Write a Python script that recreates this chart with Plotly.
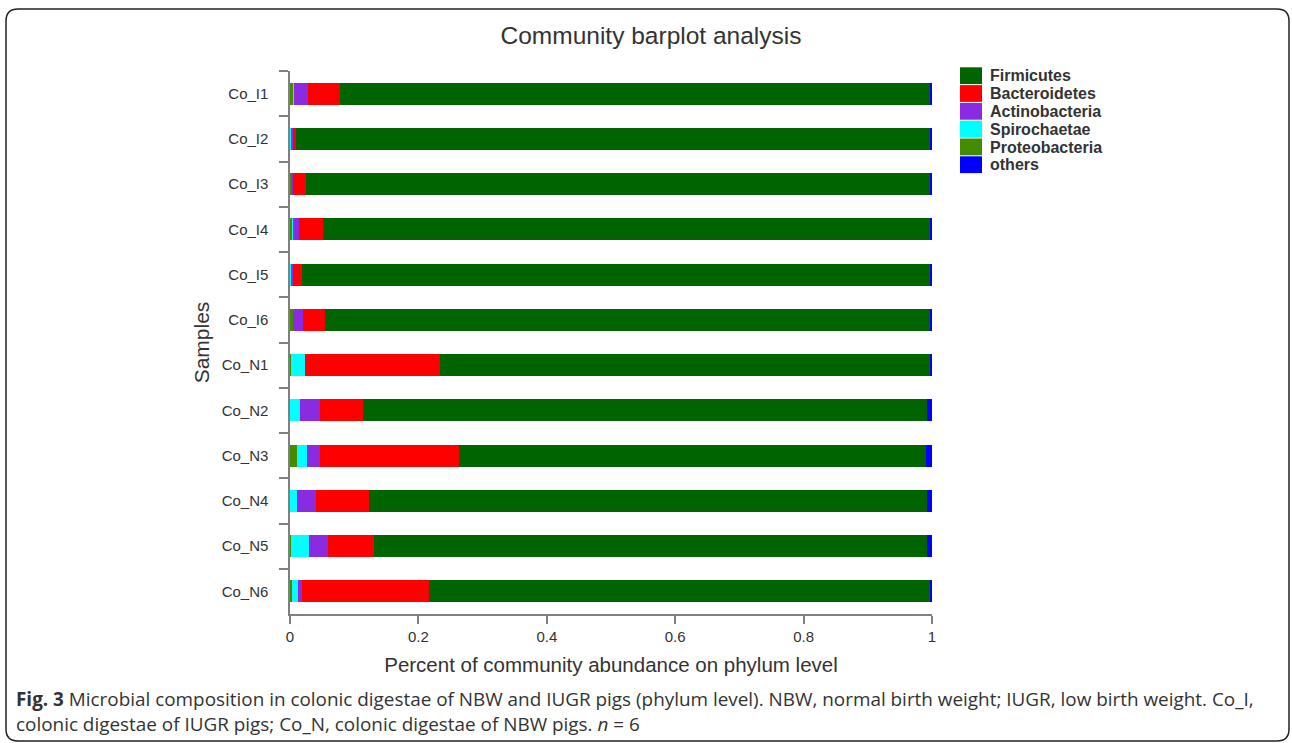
import plotly.graph_objects as go

samples = ["Co_I1", "Co_I2", "Co_I3", "Co_I4", "Co_I5", "Co_I6",
           "Co_N1", "Co_N2", "Co_N3", "Co_N4", "Co_N5", "Co_N6"]

proteobacteria = [0.005, 0.000, 0.001, 0.004, 0.000, 0.005, 0.002, 0.000, 0.011, 0.000, 0.002, 0.003]
spirochaetae   = [0.001, 0.002, 0.000, 0.001, 0.002, 0.000, 0.021, 0.016, 0.016, 0.011, 0.027, 0.010]
actinobacteria = [0.022, 0.003, 0.004, 0.009, 0.003, 0.015, 0.000, 0.030, 0.019, 0.029, 0.030, 0.005]
bacteroidetes  = [0.050, 0.005, 0.020, 0.038, 0.013, 0.034, 0.210, 0.067, 0.218, 0.083, 0.072, 0.199]
firmicutes     = [0.919, 0.987, 0.972, 0.945, 0.979, 0.943, 0.764, 0.879, 0.727, 0.869, 0.861, 0.780]
others         = [0.003, 0.003, 0.003, 0.003, 0.003, 0.003, 0.003, 0.008, 0.009, 0.008, 0.008, 0.003]

x_ticks = [0, 0.2, 0.4, 0.6, 0.8, 1]
x_tick_labels = ["0", "0.2", "0.4", "0.6", "0.8", "1"]

# stacking order (left to right)
series_names = ["Proteobacteria", "Spirochaetae", "Actinobacteria", "Bacteroidetes", "Firmicutes", "others"]
series_values = [proteobacteria, spirochaetae, actinobacteria, bacteroidetes, firmicutes, others]
series_colors = ["#458B00", "#00FFFF", "#8A2BE2", "#FF0000", "#006400", "#0000FF"]
legend_order = ["Firmicutes", "Bacteroidetes", "Actinobacteria", "Spirochaetae", "Proteobacteria", "others"]

W, H = 1292, 743
ML, MR, MT, MB = 290, 360, 71, 129
PW, PH = W - ML - MR, H - MT - MB
FONT = "Liberation Sans"


def px(x):
    return (x - ML) / PW


def py(y):
    return (H - MB - y) / PH


fig = go.Figure()
for name, vals, color in zip(series_names, series_values, series_colors):
    fig.add_trace(go.Bar(
        y=samples, x=vals, name=name, orientation="h",
        marker=dict(color=color, line=dict(width=0)),
        showlegend=False,
    ))

shapes = []
annotations = []

# rounded frame around the figure
x0, x1, y0, y1, r = 6, 1289, 9, 741, 12
path = (f"M {px(x0 + r)},{py(y0)} L {px(x1 - r)},{py(y0)} "
        f"Q {px(x1)},{py(y0)} {px(x1)},{py(y0 + r)} "
        f"L {px(x1)},{py(y1 - r)} Q {px(x1)},{py(y1)} {px(x1 - r)},{py(y1)} "
        f"L {px(x0 + r)},{py(y1)} Q {px(x0)},{py(y1)} {px(x0)},{py(y1 - r)} "
        f"L {px(x0)},{py(y0 + r)} Q {px(x0)},{py(y0)} {px(x0 + r)},{py(y0)} Z")
shapes.append(dict(type="path", path=path, xref="paper", yref="paper",
                   line=dict(color="#222222", width=1.5), fillcolor="rgba(0,0,0,0)", layer="below"))

# legend drawn as swatches + labels
color_of = dict(zip(series_names, series_colors))
for i, name in enumerate(legend_order):
    top = 67.3 + i * 17.8
    shapes.append(dict(type="rect", xref="paper", yref="paper",
                       x0=px(960), x1=px(982), y0=py(top), y1=py(top + 16.8),
                       fillcolor=color_of[name], line=dict(width=0)))
    annotations.append(dict(text=f"<b>{name}</b>", x=px(988), y=py(top + 8.6),
                            xref="paper", yref="paper", xanchor="left", yanchor="middle",
                            showarrow=False,
                            font=dict(family=FONT, size=16, color="#333333")))

annotations.append(dict(
    text=("<b>Fig. 3</b> Microbial composition in colonic digestae of NBW and IUGR pigs (phylum level). "
          "NBW, normal birth weight; IUGR, low birth weight. Co_I,<br>"
          "colonic digestae of IUGR pigs; Co_N, colonic digestae of NBW pigs. <i>n</i> = 6"),
    x=px(14), y=py(684), xref="paper", yref="paper", xanchor="left", yanchor="top",
    align="left", showarrow=False,
    font=dict(family="Open Sans", size=18.9, color="#333333")))

fig.update_layout(
    width=W, height=H,
    margin=dict(l=ML, r=MR, t=MT, b=MB),
    barmode="stack",
    bargap=0.51,
    plot_bgcolor="white",
    paper_bgcolor="white",
    showlegend=False,
    font=dict(family=FONT, color="#333333", size=15),
    title=dict(text="Community barplot analysis", x=651 / W, xanchor="center",
               y=1 - 35 / H, yanchor="middle",
               font=dict(family=FONT, size=24.5, color="#333333")),
    xaxis=dict(range=[0, 1], tickvals=x_ticks, ticktext=x_tick_labels,
               showgrid=False, zeroline=False, showline=True, linecolor="#808080", linewidth=2,
               ticks="outside", ticklen=8, tickwidth=2, tickcolor="#808080",
               tickfont=dict(family=FONT, size=15, color="#333333"),
               title=dict(text="Percent of community abundance on phylum level",
                          font=dict(family=FONT, size=20.5, color="#333333"), standoff=14)),
    yaxis=dict(categoryorder="array", categoryarray=samples, autorange="reversed",
               showgrid=False, zeroline=False, showline=True, linecolor="#808080", linewidth=2,
               ticks="outside", ticklen=9, tickwidth=2, tickcolor="#808080", tickson="boundaries",
               tickfont=dict(family=FONT, size=15, color="#333333"), ticksuffix="    ",
               title=dict(text="Samples", font=dict(family=FONT, size=21, color="#333333"), standoff=6)),
    shapes=shapes,
    annotations=annotations,
)

fig.write_html("out.html")
